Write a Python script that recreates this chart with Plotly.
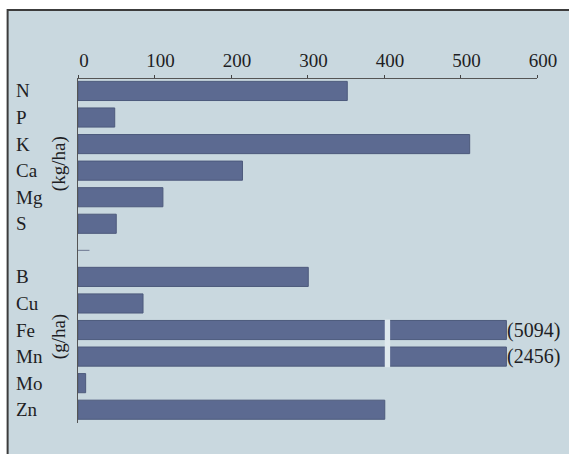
import plotly.graph_objects as go

categories = ["N", "P", "K", "Ca", "Mg", "S", "", "B", "Cu", "Fe", "Mn", "Mo", "Zn"]
# plotted bar lengths (Fe and Mn are drawn truncated, with a scale break)
values = [352, 48, 512, 215, 111, 50, None, 301, 85, 560, 560, 10, 401]
# real amounts of the truncated bars
truncated_labels = {"Fe": "(5094)", "Mn": "(2456)"}
tick_vals = [0, 100, 200, 300, 400, 500, 600]
unit_labels = [("(kg/ha)", 0.753), ("(g/ha)", 0.25)]

BG = "#c9d8df"
BAR = "#5c6a91"
TXT = "#1e1e24"
FONT = "Liberation Serif"

W, H = 569, 454
L, R, T, B = 78, 28, 79, 31
pw, ph = W - L - R, H - T - B

def px_x(p):
    return (p - L) / pw

def px_y(p):
    return (H - B - p) / ph

rows = list(range(len(categories)))

fig = go.Figure()
fig.add_trace(go.Bar(
    x=values, y=rows, orientation="h", width=0.72,
    marker=dict(color=BAR, line=dict(color="#4d5a7c", width=1)),
    hoverinfo="skip", cliponaxis=False,
))

shapes = []
# frame background
shapes.append(dict(type="rect", xref="paper", yref="paper",
                   x0=px_x(7), x1=px_x(W + 20), y0=px_y(H + 20), y1=px_y(10),
                   fillcolor=BG, line=dict(color="#3c3c3c", width=2), layer="below"))
# scale break on truncated bars
fe = categories.index("Fe")
mn = categories.index("Mn")
shapes.append(dict(type="rect", xref="x", yref="y", x0=401, x1=408,
                   y0=fe - 0.40, y1=mn + 0.40, fillcolor="#dfe9ee",
                   line=dict(width=0), layer="above"))
# small separator dash in the empty row
sep = categories.index("")
shapes.append(dict(type="line", xref="x", yref="y", x0=0, x1=15, y0=sep, y1=sep,
                   line=dict(color="#6b7590", width=1)))

annotations = []
for i, c in enumerate(categories):
    if c:
        annotations.append(dict(text=c, x=px_x(13), xref="paper", y=i, yref="y",
                                xanchor="left", yanchor="middle", showarrow=False,
                                font=dict(family=FONT, size=19, color=TXT)))
for c, lab in truncated_labels.items():
    i = categories.index(c)
    annotations.append(dict(text=lab, x=values[i], xref="x", y=i, yref="y",
                            xanchor="left", yanchor="middle", showarrow=False, xshift=-1,
                            font=dict(family=FONT, size=20, color=TXT)))
for txt, yp in unit_labels:
    annotations.append(dict(text=txt, x=px_x(59), xref="paper", y=yp, yref="paper",
                            xanchor="center", yanchor="middle", showarrow=False,
                            textangle=-90, font=dict(family=FONT, size=19, color=TXT)))

fig.update_layout(
    width=W, height=H, margin=dict(l=L, r=R, t=T, b=B),
    paper_bgcolor="white", plot_bgcolor="rgba(0,0,0,0)",
    showlegend=False, shapes=shapes, annotations=annotations,
    font=dict(family=FONT, size=19, color=TXT),
    bargap=0.28,
)
fig.update_xaxes(side="top", range=[0, 600], tickvals=tick_vals,
                 ticks="outside", ticklen=3, tickcolor="#444", tickwidth=1,
                 showline=True, linecolor="#555", linewidth=1,
                 showgrid=False, zeroline=False, ticklabelshift=6,
                 tickfont=dict(family=FONT, size=19, color=TXT))
fig.update_yaxes(range=[12.5, -0.45], showticklabels=False, showgrid=False,
                 zeroline=False, showline=True, linecolor="#555", linewidth=1,
                 ticks="")

fig.write_html("out.html", config={"displayModeBar": False},
               post_script="document.body.style.margin='0';document.body.style.overflow='hidden';")
